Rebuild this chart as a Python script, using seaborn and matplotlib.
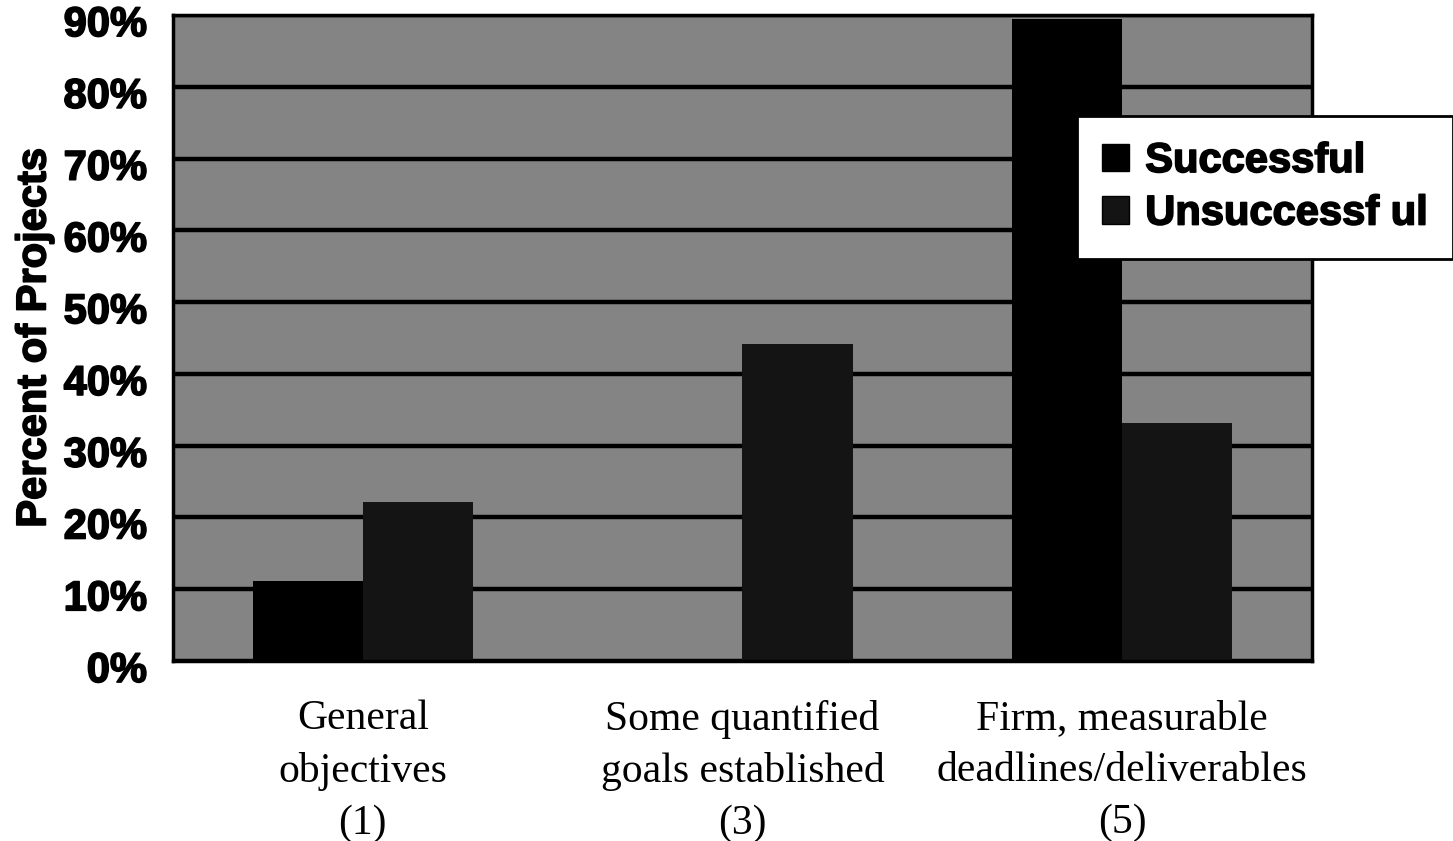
import matplotlib
matplotlib.use("Agg")
import matplotlib.pyplot as plt
import matplotlib.patches as mpatches
import matplotlib.transforms as mtransforms
import matplotlib.patheffects as pe
import numpy as np
import pandas as pd
import seaborn as sns

# data
categories = ["General\nobjectives\n(1)",
              "Some quantified\ngoals established\n(3)",
              "Firm, measurable\ndeadlines/deliverables\n(5)"]
series = ["Successful", "Unsuccessf ul"]
successful = [11.2, 0.0, 89.5]
unsuccessful = [22.1, 44.2, 33.1]
yticks = [0, 10, 20, 30, 40, 50, 60, 70, 80, 90]

df = pd.DataFrame({
    "category": categories * 2,
    "series": [series[0]] * 3 + [series[1]] * 3,
    "value": successful + unsuccessful,
})

sns.set_style("white")
plt.rcParams["text.color"] = "black"
plt.rcParams["axes.labelcolor"] = "black"
plt.rcParams["xtick.color"] = "black"
plt.rcParams["ytick.color"] = "black"
colors = {"Successful": "#000000", "Unsuccessf ul": "#141414"}
heavy = [pe.withStroke(linewidth=1.2, foreground="black")]

fig = plt.figure(figsize=(14.53, 8.41), dpi=100)
ax = fig.add_axes([0.119, 0.214, 0.784, 0.768])
ax.set_facecolor("#848484")

sns.barplot(data=df, x="category", y="value", hue="series", palette=colors,
            width=0.58, gap=0, linewidth=0, saturation=1, ax=ax, legend=False)

ax.set_axisbelow(True)
ax.yaxis.grid(True, color="black", linewidth=3.2)
ax.set_ylim(0, 90)
ax.set_xlim(-0.5, 2.5)
ax.set_yticks(yticks)
ax.set_yticklabels([])
# tick labels sit a little below their ticks in the original
ytrans = ax.get_yaxis_transform() + mtransforms.ScaledTranslation(-0.26, -0.10, fig.dpi_scale_trans)
for v in yticks:
    ax.text(0, v, "%d%%" % v, transform=ytrans, ha="right", va="center",
            fontsize=30, fontweight="bold", family="Liberation Sans",
            path_effects=heavy, clip_on=False)
ax.set_ylabel("Percent of Projects", fontsize=30, fontweight="bold",
              family="Liberation Sans")
ax.yaxis.set_label_coords(-0.104, 0.5)
ax.yaxis.label.set_path_effects(heavy)
ax.set_xlabel("")

# x ticks between groups, labels centred under groups
ax.set_xticks([-0.5, 0.5, 1.5, 2.5])
ax.set_xticklabels([])
ax.set_xticks([0, 1, 2], minor=True)
ax.set_xticklabels(categories, minor=True, fontsize=30, family="Liberation Serif",
                   linespacing=1.45)
ax.tick_params(axis="x", which="minor", length=0, pad=28)
ax.tick_params(axis="x", which="major", direction="out", length=10, width=2.5)
ax.tick_params(axis="y", direction="out", length=12, width=2.5)

for s in ax.spines.values():
    s.set_visible(True)
    s.set_color("black")
    s.set_linewidth(2.5)

handles = [mpatches.Patch(facecolor=colors[s], edgecolor="black") for s in series]
leg = fig.legend(handles, series, loc="upper right", bbox_to_anchor=(1.0, 0.862),
                 frameon=True, fancybox=False, framealpha=1, borderaxespad=0,
                 prop={"family": "Liberation Sans", "weight": "bold", "size": 30},
                 handlelength=0.65, handleheight=0.65, handletextpad=0.4,
                 labelspacing=0.3, borderpad=0.6)
leg.get_frame().set_edgecolor("black")
leg.get_frame().set_facecolor("white")
leg.get_frame().set_linewidth(2)
for t in leg.get_texts():
    t.set_path_effects(heavy)

fig.savefig("out.png", dpi=100)
